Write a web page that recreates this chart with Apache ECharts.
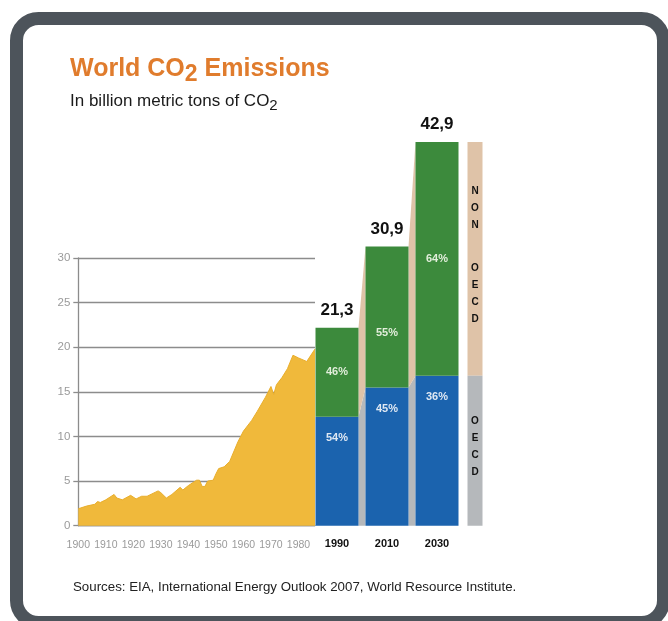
<!DOCTYPE html>
<html><head><meta charset="utf-8">
<script src="https://cdn.jsdelivr.net/npm/echarts@6/dist/echarts.min.js"></script>
<style>html,body{margin:0;padding:0;background:#fff}#c{width:668px;height:621px}</style>
</head><body><div id="c"></div>
<script>
// ---- data ----
const years = [1900,1903,1906,1907,1908,1910,1913,1914,1916,1919,1921,1923,1925,1929,1930,1932,1934,1937,1938,1940,1943,1944,1945,1946,1947,1949,1950,1951,1953,1955,1958,1960,1963,1965,1968,1970,1971,1972,1974,1976,1978,1980,1983,1986];
const emissions = [1.9,2.2,2.4,2.7,2.6,2.9,3.5,3.1,2.9,3.4,3.0,3.3,3.3,3.9,3.7,3.1,3.5,4.3,4.0,4.5,5.1,5.1,4.4,4.4,5.0,5.1,5.8,6.4,6.6,7.2,9.4,10.6,11.8,12.8,14.4,15.6,14.7,15.8,16.6,17.6,19.1,18.8,18.4,19.8];
const periods = ['1990','2010','2030'];
const oecd = [12.2, 15.5, 16.8];
const nonOecd = [10.0, 15.8, 26.2];
const totalLabels = ['21,3','30,9','42,9'];
const oecdPct = [54, 45, 36];
const nonOecdPct = [46, 55, 64];
const stripLabels = ['NON OECD', 'OECD'];

// ---- styling ----
const FONT = '"Liberation Sans", Arial, sans-serif';
const BAR_W = 43;
const STRIP_W = 15;
const STRIP_GAP = 38;
const C_BLUE = '#1b63ae', C_GREEN = '#3c8a3c', C_TAN = '#dfc3a8', C_GRAY = '#b5b8bb', C_AREA = '#f0b93b';

function vertical(s){ return s.split('').join('\n'); }

const chart = echarts.init(document.getElementById('c'));
const option = {
  animation: false,
  backgroundColor: '#ffffff',
  grid: [
    {left: 78.3, right: 353, top: 258, bottom: 95.3},
    {left: 312, width: 150, top: 124.2, bottom: 95.3}
  ],
  xAxis: [
    {type: 'value', gridIndex: 0, min: 1900, max: 1986, interval: 10,
     axisLine: {show: true, lineStyle: {color: '#8c8c8c', width: 1.3}},
     axisTick: {show: false}, splitLine: {show: false},
     axisLabel: {color: '#9a9a9a', fontSize: 10.5, fontFamily: FONT, margin: 14, showMaxLabel: false,
       formatter: v => (v % 10 === 0 ? String(v) : '')}},
    {type: 'category', gridIndex: 1, data: periods,
     axisLine: {show: false}, axisTick: {show: false},
     axisLabel: {color: '#111', fontWeight: 'bold', fontSize: 11, fontFamily: FONT, margin: 13}}
  ],
  yAxis: [
    {type: 'value', gridIndex: 0, min: 0, max: 30, interval: 5,
     axisLine: {show: true, lineStyle: {color: '#8c8c8c', width: 1.3}},
     axisTick: {show: true, length: 5, lineStyle: {color: '#8c8c8c', width: 1.3}},
     axisLabel: {color: '#9a9a9a', fontSize: 11.5, fontFamily: FONT, margin: 8},
     splitLine: {show: true, lineStyle: {color: '#8c8c8c', width: 1.3}}},
    {type: 'value', gridIndex: 1, min: 0, max: 45, show: false, splitLine: {show: false}}
  ],
  series: [
    {type: 'line', xAxisIndex: 0, yAxisIndex: 0, data: years.map((y, i) => [y, emissions[i]]),
     symbol: 'none', lineStyle: {color: '#e9ae2c', width: 1}, areaStyle: {color: C_AREA, opacity: 1}, z: 2},
    {type: 'custom', xAxisIndex: 1, yAxisIndex: 1, z: 1, clip: false,
     data: periods.map((p, i) => [i]),
     encode: {x: 0},
     renderItem: function (params, api) {
       const i = params.dataIndex;
       const hw = BAR_W / 2;
       const ch = [];
       const a0 = api.coord([i, 0]), a1 = api.coord([i, oecd[i]]), a2 = api.coord([i, oecd[i] + nonOecd[i]]);
       if (i < periods.length - 1) {
         const b0 = api.coord([i + 1, 0]), b1 = api.coord([i + 1, oecd[i + 1]]), b2 = api.coord([i + 1, oecd[i + 1] + nonOecd[i + 1]]);
         ch.push({type: 'polygon', shape: {points: [[a0[0] + hw, a0[1]], [a1[0] + hw, a1[1]], [b1[0] - hw, b1[1]], [b0[0] - hw, b0[1]]]}, style: {fill: C_GRAY}});
         ch.push({type: 'polygon', shape: {points: [[a1[0] + hw, a1[1]], [a2[0] + hw, a2[1]], [b2[0] - hw, b2[1]], [b1[0] - hw, b1[1]]]}, style: {fill: C_TAN}});
       } else {
         const sx = a0[0] + STRIP_GAP - STRIP_W / 2;
         ch.push({type: 'rect', shape: {x: sx, y: a2[1], width: STRIP_W, height: a1[1] - a2[1]}, style: {fill: C_TAN}});
         ch.push({type: 'rect', shape: {x: sx, y: a1[1], width: STRIP_W, height: a0[1] - a1[1]}, style: {fill: C_GRAY}});
         const w = stripLabels[0].split(' ');
         ch.push({type: 'text', x: sx + STRIP_W / 2, y: (a1[1] + a2[1]) / 2 - 4,
           style: {text: '{l|' + vertical(w[0]) + '}\n{g| }\n{l|' + vertical(w[1]) + '}', align: 'center', verticalAlign: 'middle',
             rich: {l: {fontSize: 10, fontWeight: 'bold', fontFamily: FONT, fill: '#111', lineHeight: 17, align: 'center'},
                    g: {fontSize: 10, lineHeight: 26}}}});
         ch.push({type: 'text', x: sx + STRIP_W / 2, y: (a0[1] + a1[1]) / 2 - 4,
           style: {text: vertical(stripLabels[1]), align: 'center', verticalAlign: 'middle', lineHeight: 17,
             fontSize: 10, fontWeight: 'bold', fontFamily: FONT, fill: '#111'}});
       }
       ch.push({type: 'text', x: a2[0], y: a2[1] - 9,
         style: {text: totalLabels[i], align: 'center', verticalAlign: 'bottom', fontSize: 17, fontWeight: 'bold', fontFamily: FONT, fill: '#111'}});
       return {type: 'group', children: ch};
     }},
    {type: 'bar', name: 'OECD', xAxisIndex: 1, yAxisIndex: 1, stack: 'total', barWidth: BAR_W, z: 3,
     data: oecd, itemStyle: {color: C_BLUE},
     label: {show: true, position: 'insideTop', distance: 16, formatter: p => oecdPct[p.dataIndex] + '%',
       color: '#dfe8f3', fontSize: 11, fontWeight: 'bold', fontFamily: FONT}},
    {type: 'bar', name: 'Non-OECD', xAxisIndex: 1, yAxisIndex: 1, stack: 'total', barWidth: BAR_W, z: 3,
     data: nonOecd.map((v, i) => (i === 1 ? {value: v, label: {offset: [0, 16]}} : v)), itemStyle: {color: C_GREEN},
     label: {show: true, position: 'inside', formatter: p => nonOecdPct[p.dataIndex] + '%',
       color: '#e2eedb', fontSize: 11, fontWeight: 'bold', fontFamily: FONT}}
  ],
  graphic: [
    {type: 'rect', z: 100, shape: {x: 16.5, y: 18.5, width: 647, height: 604, r: 22},
     style: {fill: 'none', stroke: '#4d545b', lineWidth: 13}},
    {type: 'text', left: 70, top: 57, z: 100,
     style: {text: '{t|World CO}{s|2}{t| Emissions}',
       rich: {t: {fontSize: 25, fontWeight: 'bold', fontFamily: FONT, fill: '#e07c2d'},
              s: {fontSize: 23, fontWeight: 'bold', fontFamily: FONT, fill: '#e07c2d', padding: [10, 0, 0, 0]}}}},
    {type: 'text', left: 70, top: 93, z: 100,
     style: {text: '{t|In billion metric tons of CO}{s|2}',
       rich: {t: {fontSize: 17, fontFamily: FONT, fill: '#1a1a1a'},
              s: {fontSize: 15, fontFamily: FONT, fill: '#1a1a1a', padding: [8, 0, 0, 0]}}}},
    {type: 'text', left: 73, top: 581, z: 100,
     style: {text: 'Sources: EIA, International Energy Outlook 2007, World Resource Institute.',
       fontSize: 13.3, fontFamily: FONT, fill: '#222'}}
  ]
};
chart.setOption(option);
</script></body></html>
